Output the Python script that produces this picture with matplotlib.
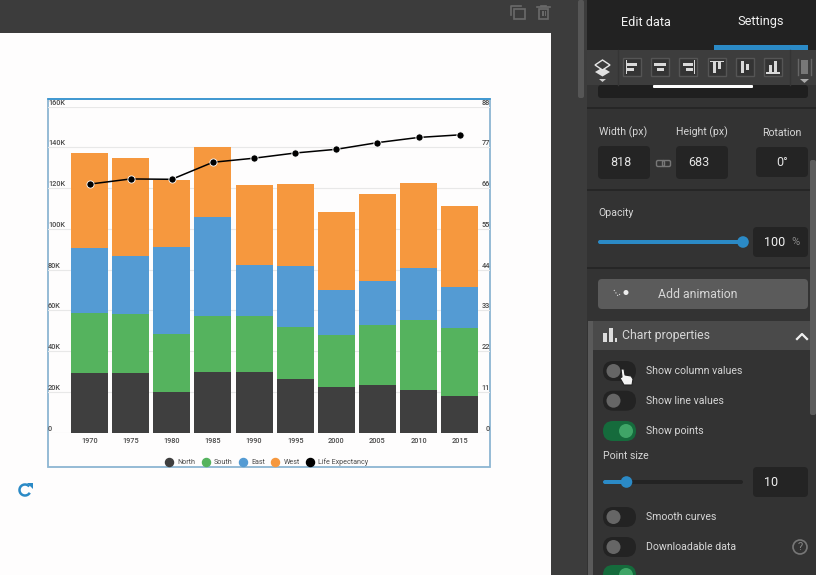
import matplotlib
matplotlib.use("Agg")
import matplotlib.pyplot as plt
from matplotlib.lines import Line2D
from matplotlib.patches import Rectangle, FancyBboxPatch, Circle, Arc, Polygon

plt.rcParams['font.family'] = ['Roboto', 'DejaVu Sans']

years = [1970, 1975, 1980, 1985, 1990, 1995, 2000, 2005, 2010, 2015]
north = [29.3, 29.2, 20.1, 29.9, 29.9, 26.2, 22.4, 23.2, 20.8, 17.9]
south = [29.6, 29.2, 28.5, 27.5, 27.2, 25.7, 25.5, 29.8, 34.5, 33.6]
east = [31.9, 28.5, 42.5, 48.3, 25.2, 30.1, 22.0, 21.4, 25.5, 20.0]
west = [46.4, 47.9, 32.7, 34.6, 39.2, 40.0, 38.2, 42.9, 41.9, 39.9]
life = [67.1, 68.5, 68.4, 73.0, 74.1, 75.5, 76.5, 78.3, 79.7, 80.4]

left_ticks = [0, 20, 40, 60, 80, 100, 120, 140, 160]
left_labels = ['0', '20K', '40K', '60K', '80K', '100K', '120K', '140K', '160K']
right_ticks = [0, 11, 22, 33, 44, 55, 66, 77, 88]

series_names = ['North', 'South', 'East', 'West']
series_colors = ['#3f3f3f', '#55b35e', '#549bd3', '#f6983e']

W, H = 816, 575
fig = plt.figure(figsize=(W / 100, H / 100), dpi=100)

##======== EDITOR UI BEHIND THE CHART ========##
ui = fig.add_axes([0, 0, 1, 1])
ui.set_xlim(0, W)
ui.set_ylim(H, 0)
ui.axis('off')

PANEL = '#333333'
DARK = '#222222'
TXT = '#d6d6d6'


def box(x0, y0, x1, y1, color, r=0, z=1):
    if r:
        p = FancyBboxPatch((x0 + r, y0 + r), x1 - x0 - 2 * r, y1 - y0 - 2 * r,
                           boxstyle=f'round,pad={r}', fc=color, ec='none', zorder=z)
    else:
        p = Rectangle((x0, y0), x1 - x0, y1 - y0, fc=color, ec='none', zorder=z)
    ui.add_patch(p)


def label(x, y, s, size=7.6, color=TXT, ha='left', **kw):
    ui.text(x, y, s, fontsize=size, color=color, ha=ha, va='center', zorder=5, **kw)


def toggle(y, on=False):
    box(603, y - 10, 636, y + 10, '#156b3c' if on else '#232323', r=10, z=2)
    cx = 626 if on else 613.5
    ui.add_patch(Circle((cx, y), 7, fc='#3fa567' if on else '#666666', ec='none', zorder=3))


# canvas and panel backgrounds
box(0, 0, W, H, '#3c3c3c', z=0)
box(0, 33, 551, H, '#fefdfd', z=1)
box(578, 0, 584, 98, '#565656', r=2)
box(587, 0, W, H, PANEL, z=1)
box(587, 0, W, 50, DARK)
box(714, 45, 808, 50, '#2b8ac6', z=2)
label(646, 22, 'Edit data', size=9.2, color='#f2f2f2', ha='center')
label(761, 22, 'Settings', size=9.2, color='#f2f2f2', ha='center')

# copy and trash icons
ui.plot([511, 511, 521], [15, 5.5, 5.5], color='#6a6a6a', lw=1.2, zorder=3)
ui.add_patch(Rectangle((514, 8.5), 10.5, 10, fc='none', ec='#6a6a6a', lw=1.2, zorder=3))
ui.add_patch(Rectangle((539, 8.5), 9, 10, fc='none', ec='#6a6a6a', lw=1.2, zorder=3))
box(542, 11, 543.5, 16, '#6a6a6a', z=3)
box(544.5, 11, 546, 16, '#6a6a6a', z=3)
ui.plot([537, 550], [7, 7], color='#6a6a6a', lw=1.2, zorder=3)
ui.plot([541, 546], [5.5, 5.5], color='#6a6a6a', lw=1.2, zorder=3)

# align toolbar
box(587, 50, W, 85, '#3d3d3d', z=2)
ui.plot([618, 618], [50, 85], color='#353535', lw=1, zorder=3)
ui.plot([790, 790], [50, 85], color='#353535', lw=1, zorder=3)
ui.add_patch(Polygon([(595, 72), (602.5, 67.5), (610, 72), (602.5, 76.5)], fc='#e0e0e0', ec='none', zorder=3))
ui.add_patch(Polygon([(595, 65), (602.5, 60), (610, 65), (602.5, 70)], fc='#3d3d3d', ec='#e8e8e8', lw=1, zorder=4))
ui.add_patch(Polygon([(599, 79), (606, 79), (602.5, 82)], fc='#cccccc', ec='none', zorder=3))

ICON = '#d8d8d8'
# left, centre and right align: bars are horizontal
for bx, a in [(632, 'l'), (660, 'c'), (688, 'r')]:
    ui.add_patch(Rectangle((bx - 9, 58), 18, 18, fc='#343434', ec='#555555', lw=1, zorder=3))
    if a == 'l':
        box(bx - 6.5, 60, bx - 5.5, 74, ICON, z=4)
        box(bx - 5, 63, bx + 5, 65.5, ICON, z=4)
        box(bx - 5, 68, bx + 2, 70.5, ICON, z=4)
    elif a == 'c':
        box(bx - 6, 63, bx + 6, 65.5, ICON, z=4)
        box(bx - 3.5, 68, bx + 3.5, 70.5, ICON, z=4)
    else:
        box(bx + 5.5, 60, bx + 6.5, 74, ICON, z=4)
        box(bx - 5, 63, bx + 5, 65.5, ICON, z=4)
        box(bx - 2, 68, bx + 5, 70.5, ICON, z=4)
# top, middle and bottom align: bars are vertical
for bx, a in [(717, 't'), (745, 'm'), (773, 'b')]:
    ui.add_patch(Rectangle((bx - 9, 58), 18, 18, fc='#343434', ec='#555555', lw=1, zorder=3))
    if a == 't':
        box(bx - 7, 60.5, bx + 7, 62, ICON, z=4)
        box(bx - 4, 62, bx - 1, 73, ICON, z=4)
        box(bx + 1, 62, bx + 4, 69, ICON, z=4)
    elif a == 'm':
        box(bx - 4, 61, bx - 1, 73, ICON, z=4)
        box(bx + 1, 64, bx + 4, 70, ICON, z=4)
    else:
        box(bx - 7, 72, bx + 7, 73.5, ICON, z=4)
        box(bx - 4, 65, bx - 1, 72, ICON, z=4)
        box(bx + 1, 61, bx + 4, 72, ICON, z=4)
box(801, 60, 808, 74, '#777777', z=3)
ui.plot([798, 798], [59, 75], color='#666666', lw=1, zorder=3)
ui.plot([811, 811], [59, 75], color='#666666', lw=1, zorder=3)
ui.add_patch(Polygon([(800, 79), (809, 79), (804.5, 83)], fc='#aaaaaa', ec='none', zorder=3))
box(598, 85, 808, 98, '#1f1f1f', r=3, z=2)
box(653, 85, 753, 88, '#ffffff', r=1, z=3)

# section dividers
for dy in [108, 190, 268]:
    box(587, dy - 1, W, dy + 1, '#262626', z=2)

# size and rotation
label(623.5, 132, 'Width (px)', ha='center')
label(702, 132, 'Height (px)', ha='center')
label(782, 133, 'Rotation', ha='center')
box(598, 146, 650, 179, '#242424', r=4, z=2)
box(676, 146, 728, 179, '#242424', r=4, z=2)
box(756, 147, 808, 177, '#242424', r=4, z=2)
label(621, 163, '818', size=9, color='#e4e4e4', ha='center')
label(699, 163, '683', size=9, color='#e4e4e4', ha='center')
label(782, 162, '0°', size=9, color='#e4e4e4', ha='center')
ui.add_patch(FancyBboxPatch((658, 162), 5, 3, boxstyle='round,pad=1.5', fc='none', ec='#777777', lw=1, zorder=3))
ui.add_patch(FancyBboxPatch((664, 162), 5, 3, boxstyle='round,pad=1.5', fc='none', ec='#777777', lw=1, zorder=3))

# opacity
label(598, 213, 'Opacity')
box(598, 240, 745, 244, '#2b8ac6', r=2, z=2)
ui.add_patch(Circle((743, 242), 5.8, fc='#2b8ac6', ec='none', zorder=3))
box(753, 227, 808, 257, '#242424', r=4, z=2)
label(775, 242, '100', size=9, color='#f2f2f2', ha='center')
label(795, 242, '%', size=8, color='#888888', ha='center')

# animation button
box(598, 279, 808, 309, '#5b5b5b', r=4, z=2)
label(698, 294, 'Add animation', size=8.8, ha='center')
ui.add_patch(Circle((626, 292.5), 2.5, fc='#eeeeee', ec='none', zorder=3))
ui.plot([614, 618, 621], [290, 296, 293], color='#dddddd', lw=0.8, ls=':', zorder=3)

# chart properties section
box(588, 321, 593, H, '#5a5a5a', z=2)
box(593, 321, W, 350, '#4a4a4a', z=2)
box(603, 333, 607, 342, '#dddddd', z=3)
box(609, 328, 613, 342, '#dddddd', z=3)
box(615, 338, 617, 342, '#dddddd', z=3)
label(622, 336, 'Chart properties', size=8.8)
ui.plot([797, 802, 807], [339, 334, 339], color='#f0f0f0', lw=1.6, zorder=3)

for ty, name, on in [(371, 'Show column values', False), (400.7, 'Show line values', False),
                     (431, 'Show points', True), (517, 'Smooth curves', False),
                     (547, 'Downloadable data', False)]:
    toggle(ty, on)
    label(646, ty, name)
toggle(575, True)

label(603, 456, 'Point size')
box(603, 480, 743, 484, '#232323', r=2, z=2)
box(603, 480, 626, 484, '#2b8ac6', r=2, z=3)
ui.add_patch(Circle((626.5, 482), 5.8, fc='#2b8ac6', ec='none', zorder=4))
box(753, 467, 808, 497, '#242424', r=4, z=2)
label(771, 482, '10', size=9, color='#f2f2f2', ha='center')

ui.add_patch(Circle((800, 547), 7, fc='none', ec='#777777', lw=1.2, zorder=3))
label(800, 547, '?', size=8, color='#888888', ha='center')

# scrollbar on the settings panel
box(810, 160, 816, 415, '#5c5c5c', r=2, z=2)

# pointer hand over the first toggle
ui.add_patch(Polygon([(621, 369), (624, 369), (625, 375), (631, 376), (633, 379), (632, 385),
                      (624, 385), (620, 378), (622, 377)], fc='#f4f4f4', ec='#222222', lw=0.8, zorder=6))

# refresh icon under the chart
ui.add_patch(Arc((25, 490), 11, 11, theta1=30, theta2=320, ec='#2b8ac6', lw=1.8, zorder=3))
ui.add_patch(Polygon([(27, 483), (32.5, 483), (32.5, 488.5)], fc='#2b8ac6', ec='none', zorder=3))

# selection frame around the chart
ui.add_patch(Rectangle((48, 98.7), 442, 368.3, fc='none', ec='#8db6d2', lw=1.3, zorder=2))
ui.plot([48, 490], [98.7, 98.7], color='#2a8fd0', lw=1.1, zorder=2)

##======== COLUMNS AND LINE ========##
x = list(range(len(years)))
ax = fig.add_axes([48 / W, (H - 432.7) / H, 442 / W, 326 / H])
ax.patch.set_alpha(0)
bottom = [0] * len(years)
for name, vals, col in zip(series_names, [north, south, east, west], series_colors):
    ax.bar(x, vals, bottom=bottom, width=0.9, color=col, zorder=2)
    bottom = [b + v for b, v in zip(bottom, vals)]
ax.set_xlim(-1.009, 9.737)
ax.set_ylim(0, 160)
ax.set_yticks(left_ticks)
ax.set_yticklabels(left_labels, ha='left', va='bottom', fontweight='medium')
ax.set_xticks(x)
ax.set_xticklabels(years, fontweight='medium')
ax.tick_params(axis='x', length=0, pad=3, labelsize=5.3, labelcolor='#4a4a4a')
ax.tick_params(axis='y', length=0, pad=0, labelsize=5.3, labelcolor='#4a4a4a')
ax.grid(axis='y', color='#e8e8e8', lw=0.8, zorder=0)
ax.set_axisbelow(True)
for side in ax.spines:
    ax.spines[side].set_visible(False)

ax2 = ax.twinx()
ax2.patch.set_alpha(0)
ax2.plot(x, life, color='black', lw=1.1, marker='o', ms=5.2, mfc='black', mec='white', mew=0.6, zorder=5)
ax2.set_ylim(0, 88)
ax2.set_yticks(right_ticks)
ax2.set_yticklabels(right_ticks, ha='right', va='bottom', fontweight='medium')
ax2.tick_params(axis='y', length=0, pad=0, labelsize=5.3, labelcolor='#4a4a4a')
for side in ax2.spines:
    ax2.spines[side].set_visible(False)

handles = [Line2D([], [], ls='none', marker='o', ms=5.8, color=c) for c in series_colors]
handles.append(Line2D([], [], ls='none', marker='o', ms=5.8, color='black'))
leg = ax2.legend(handles, series_names + ['Life Expectancy'], ncol=5, frameon=False,
                 loc='center', bbox_to_anchor=(267 / W, (H - 462.5) / H),
                 bbox_transform=fig.transFigure, fontsize=5.1, labelcolor='#4a4a4a',
                 handlelength=1.0, handletextpad=0.7, columnspacing=0.9, borderpad=0)

fig.savefig('out.png', dpi=100)
